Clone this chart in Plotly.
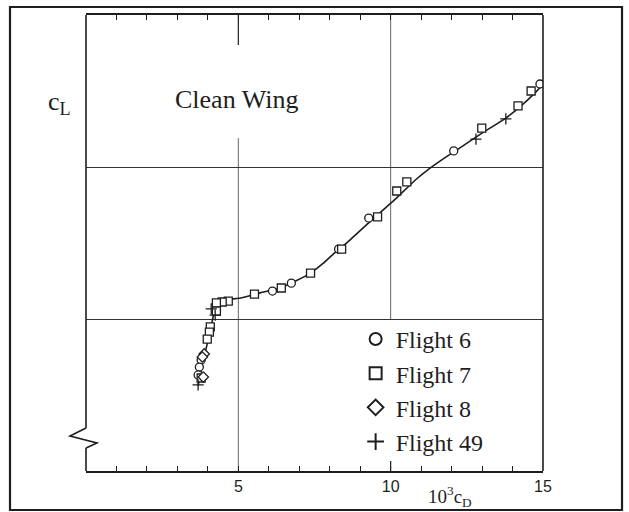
import plotly.graph_objects as go

# Drag polar, clean wing: 10^3 c_D (x) against c_L (y)
f6_cd = [14.90, 12.07, 9.28, 8.29, 6.74, 6.12, 3.78, 3.72, 3.68]
f6_cl = [1.273, 1.053, 0.832, 0.730, 0.618, 0.592, 0.365, 0.342, 0.316]

f7_cd = [14.61, 14.18, 12.99, 10.53, 10.20, 9.57, 8.39, 7.37, 6.41, 5.53,
         4.67, 4.47, 4.28, 4.28, 4.08, 4.05, 3.98, 3.78]
f7_cl = [1.250, 1.201, 1.128, 0.951, 0.921, 0.836, 0.730, 0.651, 0.602, 0.582,
         0.559, 0.556, 0.553, 0.526, 0.474, 0.457, 0.434, 0.306]

f8_cd = [3.88, 3.82, 3.85]
f8_cl = [0.385, 0.375, 0.309]

f49_cd = [13.78, 12.80, 4.11, 4.24, 3.68]
f49_cl = [1.158, 1.092, 0.533, 0.513, 0.283]

# Faired curve through the flight data
fair_cd = [3.68, 3.85, 4.05, 4.21, 4.34, 4.61, 5.07, 5.72, 6.38, 6.88, 7.37, 7.76,
           8.09, 8.52, 9.34, 10.16, 10.82, 11.25, 11.64, 12.14, 12.96, 13.78,
           14.28, 14.77, 15.0]
fair_cl = [0.280, 0.365, 0.447, 0.523, 0.553, 0.563, 0.569, 0.586, 0.602, 0.625,
           0.651, 0.681, 0.711, 0.747, 0.822, 0.895, 0.958, 0.993, 1.021, 1.054,
           1.109, 1.161, 1.201, 1.247, 1.273]

x_tick_vals = [5, 10, 15]
x_tick_text = ["5", "10", "15"]
cl_grid = [0.5, 1.0]

INK = "#1e1e1e"
SERIF = "Liberation Serif, Times New Roman, serif"
SANS = "Liberation Sans, Arial, sans-serif"

fig = go.Figure()

fig.add_trace(go.Scatter(
    x=fair_cd, y=fair_cl, mode="lines",
    line=dict(color=INK, width=1.6, shape="spline", smoothing=0.5),
    showlegend=False, hoverinfo="skip"))

series = [
    ("Flight 6", f6_cd, f6_cl, "circle", "white"),
    ("Flight 7", f7_cd, f7_cl, "square", "white"),
    ("Flight 8", f8_cd, f8_cl, "diamond", "white"),
    ("Flight 49", f49_cd, f49_cl, "cross-thin-open", INK),
]
for name, xs, ys, sym, fill in series:
    fig.add_trace(go.Scatter(
        x=xs, y=ys, mode="markers", name=name,
        marker=dict(symbol=sym, size=8, color=fill,
                    line=dict(color=INK, width=1.3))))

grid = dict(color="#666666", width=1)
shapes = [
    # vertical grid at 5 (interrupted behind the title) and at 10
    dict(type="line", xref="x", yref="y", x0=5, x1=5, y0=0, y1=1.095, line=grid, layer="below"),
    dict(type="line", xref="x", yref="y", x0=5, x1=5, y0=1.401, y1=1.5, line=dict(color=INK, width=1.2), layer="below"),
    dict(type="line", xref="x", yref="y", x0=10, x1=10, y0=0.5, y1=1.5, line=grid, layer="below"),
    dict(type="line", xref="x", yref="y", x0=10, x1=10, y0=0, y1=0.033, line=dict(color=INK, width=1.2)),
    # plot frame: right edge and broken left edge
    dict(type="line", xref="paper", yref="paper", x0=1, x1=1, y0=0, y1=1, line=dict(color=INK, width=1.6)),
    dict(type="line", xref="paper", yref="paper", x0=0, x1=0, y0=0, y1=0.0504, line=dict(color=INK, width=1.6)),
    dict(type="line", xref="paper", yref="paper", x0=0, x1=0, y0=0.0943, y1=1, line=dict(color=INK, width=1.6)),
    dict(type="path", xref="paper", yref="paper",
         path="M 0 0.0943 L -0.035 0.0768 L 0.024 0.0614 L 0 0.0504",
         line=dict(color=INK, width=1.6)),
    # outer border
    dict(type="rect", xref="paper", yref="paper", x0=-0.1663, x1=1.1729, y0=-0.0855, y1=1.0175,
         line=dict(color=INK, width=2.2)),
]

annotations = [
    dict(text="Clean Wing", x=0.330, y=0.814, xref="paper", yref="paper", showarrow=False,
         xanchor="center", yanchor="middle",
         font=dict(family=SERIF, size=26, color=INK)),
    dict(text="c<sub>L</sub>", x=-0.059, y=0.807, xref="paper", yref="paper", showarrow=False,
         xanchor="center", yanchor="middle",
         font=dict(family=SERIF, size=26, color=INK)),
    dict(text="10<sup>3</sup>c<sub>D</sub>", x=0.797, y=-0.057, xref="paper", yref="paper",
         xanchor="center", yanchor="middle",
         showarrow=False, font=dict(family=SERIF, size=19, color=INK)),
]

fig.update_layout(
    width=629, height=512,
    margin=dict(l=86, r=86, t=15, b=41),
    paper_bgcolor="white", plot_bgcolor="white",
    shapes=shapes, annotations=annotations,
    xaxis=dict(range=[0, 15], tickvals=x_tick_vals, ticktext=x_tick_text,
               ticks="inside", ticklen=5, tickwidth=1.2, tickcolor=INK,
               minor=dict(dtick=1, tick0=0, ticks="inside", ticklen=5,
                          tickwidth=1.2, tickcolor=INK, showgrid=False),
               showline=True, linecolor=INK, linewidth=1.6, mirror="ticks",
               showgrid=False, zeroline=False,
               tickfont=dict(family=SANS, size=16, color=INK)),
    yaxis=dict(range=[0, 1.5], tickvals=cl_grid, showticklabels=False, ticks="",
               showgrid=True, gridcolor="#333333", gridwidth=1,
               showline=False, zeroline=False),
    legend=dict(x=0.59, y=0.338, xanchor="left", yanchor="top",
                bgcolor="rgba(0,0,0,0)", borderwidth=0,
                font=dict(family=SERIF, size=24, color=INK),
                tracegroupgap=0, itemsizing="constant"),
    showlegend=True,
)

fig.write_html("out.html")
